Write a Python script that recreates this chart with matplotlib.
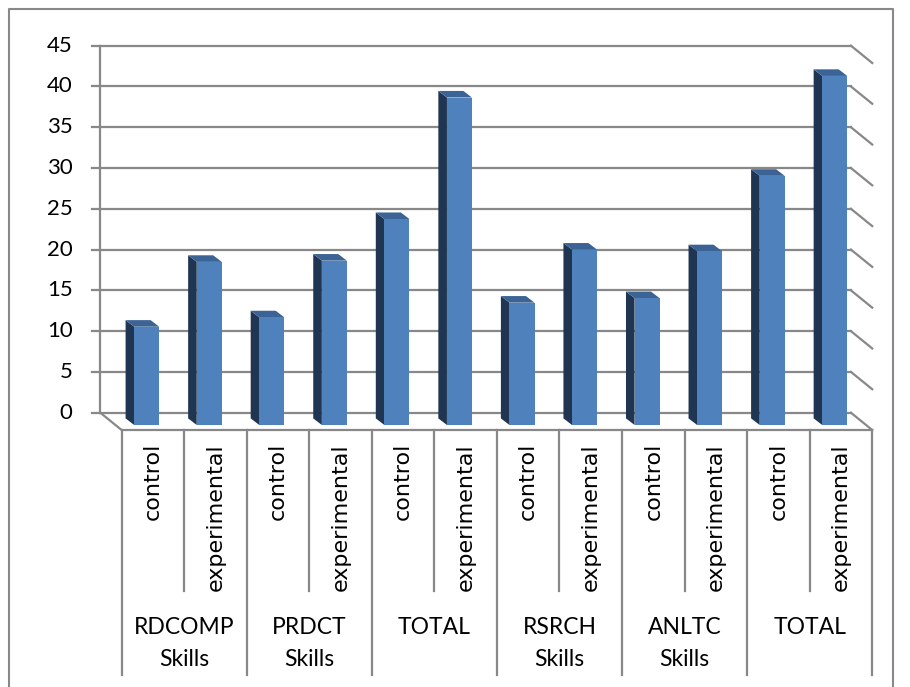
import matplotlib
matplotlib.use("Agg")
import matplotlib.pyplot as plt
from matplotlib.patches import Polygon

# data
groups = ["RDCOMP\nSkills", "PRDCT\nSkills", "TOTAL", "RSRCH\nSkills", "ANLTC\nSkills", "TOTAL"]
series = ["control", "experimental"]
values = [12.05, 20.0, 13.2, 20.15, 25.25, 40.15, 15.0, 21.5, 15.55, 21.3, 30.55, 42.8]
yticks = [0, 5, 10, 15, 20, 25, 30, 35, 40, 45]

# pixel geometry of the fake 3D box (front plane of the bars = data coords)
PX, PY = 62.55, 8.156          # px per category / per value unit
X0, Y0 = 146.7, 425.0          # pixel of bar 0 centre, value 0
W, H = 910, 687

wall_dx, wall_dy = -15.1 / PX, 12.3 / PY     # back wall offset
floor_dx, floor_dy = 6.2 / PX, -5.0 / PY     # front floor edge offset
bar_dx, bar_dy = 8.6 / PX, 6.6 / PY          # bar depth
bw = 0.40

front_col = "#4F81BD"
side_col = "#1F3552"
top_col = "#3B6396"
grid_col = "#888888"

fig = plt.figure(figsize=(W / 100, H / 100), dpi=100)
ax = fig.add_axes([0, 0, 1, 1])
ax.set_xlim(-X0 / PX, (W - X0) / PX)
ax.set_ylim((Y0 - H) / PY, Y0 / PY)
ax.axis("off")

n = len(values)
left, right = -0.5, n - 0.5

# back wall gridlines + right wall slants
for v in yticks:
    yb = v + wall_dy
    ax.plot([left + wall_dx, right + wall_dx], [yb, yb], color=grid_col, lw=1.6, zorder=1)
    ax.plot([right + wall_dx, right + floor_dx], [yb, v + floor_dy], color=grid_col, lw=1.6, zorder=1)
    ax.plot([left + wall_dx - 8.7 / PX, left + wall_dx], [yb, yb], color=grid_col, lw=1.6, zorder=1)
    ax.text(left + wall_dx - 27.7 / PX, yb, str(v), ha="right", va="center",
            fontsize=16, family="Lato", color="black")

# left axis and floor
ax.plot([left + wall_dx] * 2, [wall_dy, yticks[-1] + wall_dy], color=grid_col, lw=1.6, zorder=1)
ax.plot([left + wall_dx, left + floor_dx], [wall_dy, floor_dy], color=grid_col, lw=1.6, zorder=1)
ax.plot([left + floor_dx, right + floor_dx], [floor_dy, floor_dy], color=grid_col, lw=1.6, zorder=1)

# bars
xs = list(range(n))
ax.bar(xs, values, width=bw, color=front_col, zorder=5, linewidth=0)
for x, v in zip(xs, values):
    l, r = x - bw / 2, x + bw / 2
    ax.add_patch(Polygon([(l, 0), (l, v), (l - bar_dx, v + bar_dy), (l - bar_dx, bar_dy)],
                         closed=True, color=side_col, lw=0, zorder=4))
    ax.add_patch(Polygon([(l, v), (r, v), (r - bar_dx, v + bar_dy), (l - bar_dx, v + bar_dy)],
                         closed=True, color=top_col, lw=0, zorder=4))

# category table below the floor
y_long = (Y0 - 675) / PY
y_short = (Y0 - 591) / PY
for k in range(n + 1):
    xk = left + floor_dx + k
    ax.plot([xk, xk], [floor_dy, y_long if k % 2 == 0 else y_short],
            color=grid_col, lw=1.6, zorder=1)

for k in range(n):
    ax.text(left + floor_dx + k + 0.5, (Y0 - 443) / PY, series[k % 2], rotation=90,
            ha="center", va="top", fontsize=16, family="DejaVu Sans")

for g, name in enumerate(groups):
    xc = left + floor_dx + 2 * g + 1
    for j, line in enumerate(name.split("\n")):
        ax.text(xc, (Y0 - 627 - 33 * j) / PY, line, ha="center", va="center",
                fontsize=16.5, family="Lato")

# outer chart border
fig.add_artist(plt.Line2D([9 / W, 9 / W, 893 / W, 893 / W], [0, 1 - 9 / H, 1 - 9 / H, 0],
                          transform=fig.transFigure, color=grid_col, lw=1.5))

fig.savefig("out.png", dpi=100)
